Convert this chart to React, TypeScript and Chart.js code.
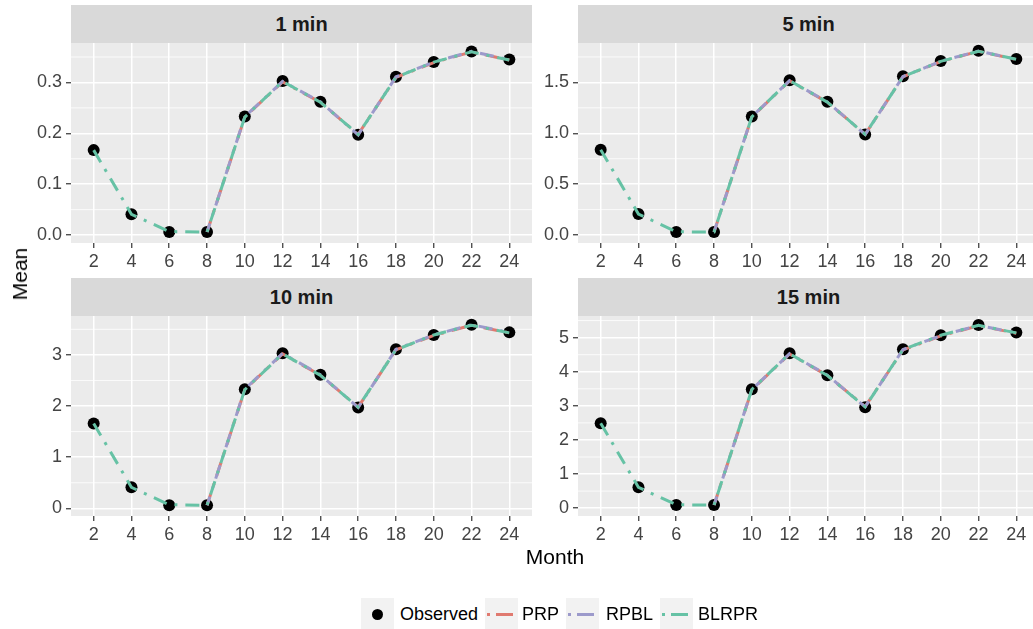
import React, { useEffect, useRef } from "react";
import { Chart, registerables } from "chart.js";

Chart.register(...registerables);

// ---------- data ----------
const months = [2, 4, 6, 8, 10, 12, 14, 16, 18, 20, 22, 24];

const obs1 = [0.167, 0.041, 0.006, 0.006, 0.233, 0.303, 0.262, 0.197, 0.311, 0.340, 0.361, 0.345];
const prp1 = [null, null, null, 0.006, 0.232, 0.301, 0.261, 0.198, 0.310, 0.339, 0.360, 0.344];
const rpbl1 = [null, null, null, 0.006, 0.233, 0.302, 0.262, 0.197, 0.311, 0.340, 0.361, 0.345];
const blrpr1 = [0.167, 0.041, 0.007, 0.006, 0.232, 0.302, 0.261, 0.198, 0.310, 0.340, 0.360, 0.344];

const obs2 = [0.839, 0.207, 0.030, 0.030, 1.165, 1.520, 1.310, 0.987, 1.560, 1.710, 1.810, 1.730];
const prp2 = [null, null, null, 0.030, 1.160, 1.515, 1.305, 0.990, 1.555, 1.705, 1.805, 1.725];
const rpbl2 = [null, null, null, 0.031, 1.163, 1.518, 1.308, 0.988, 1.558, 1.708, 1.808, 1.728];
const blrpr2 = [0.839, 0.207, 0.032, 0.030, 1.162, 1.517, 1.306, 0.990, 1.556, 1.707, 1.806, 1.727];

const obs3 = [1.66, 0.41, 0.06, 0.06, 2.33, 3.03, 2.61, 1.97, 3.11, 3.39, 3.59, 3.44];
const prp3 = [null, null, null, 0.06, 2.32, 3.02, 2.60, 1.98, 3.10, 3.38, 3.58, 3.43];
const rpbl3 = [null, null, null, 0.06, 2.33, 3.03, 2.61, 1.97, 3.11, 3.39, 3.59, 3.44];
const blrpr3 = [1.66, 0.41, 0.07, 0.06, 2.32, 3.02, 2.60, 1.98, 3.10, 3.39, 3.58, 3.43];

const obs4 = [2.49, 0.61, 0.09, 0.09, 3.49, 4.54, 3.90, 2.96, 4.66, 5.07, 5.37, 5.15];
const prp4 = [null, null, null, 0.09, 3.47, 4.52, 3.89, 2.98, 4.64, 5.05, 5.35, 5.13];
const rpbl4 = [null, null, null, 0.09, 3.48, 4.53, 3.90, 2.97, 4.65, 5.06, 5.36, 5.14];
const blrpr4 = [2.49, 0.61, 0.10, 0.09, 3.48, 4.53, 3.89, 2.97, 4.65, 5.07, 5.36, 5.14];

const yTicks1 = [0, 0.1, 0.2, 0.3];
const yLabels1 = ["0.0", "0.1", "0.2", "0.3"];
const yTicks2 = [0, 0.5, 1.0, 1.5];
const yLabels2 = ["0.0", "0.5", "1.0", "1.5"];
const yTicks3 = [0, 1, 2, 3];
const yLabels3 = ["0", "1", "2", "3"];
const yTicks4 = [0, 1, 2, 3, 4, 5];
const yLabels4 = ["0", "1", "2", "3", "4", "5"];

const panelTitles = ["1 min", "5 min", "10 min", "15 min"];
const seriesNames = ["Observed", "PRP", "RPBL", "BLRPR"];

// ---------- style ----------
const COLORS = { PRP: "#E07A70", RPBL: "#9C9ACB", BLRPR: "#66C2A5" };
const FONT = "'Liberation Sans', Arial, Helvetica, sans-serif";
const Y_AXIS_W = 60;
const X_AXIS_H = 32;
const PLOT_W = 461;
const PLOT_H = 200;
const COL_LEFT = [71, 578];
const ROW_STRIP_TOP = [5, 278];
const STRIP_H = 38;
const DASH = [14, 8, 3, 8];

const bgPlugin = {
  id: "bg",
  beforeDraw(chart: any, _args: any, opts: any) {
    const { ctx, chartArea } = chart;
    const { left, top, right, bottom } = chartArea;
    ctx.save();
    ctx.fillStyle = "#EBEBEB";
    ctx.fillRect(left, top, right - left, bottom - top);
    const ys = chart.scales.y;
    const ticks: number[] = opts.ticks || [];
    if (ticks.length > 1) {
      const step = ticks[1] - ticks[0];
      ctx.strokeStyle = "#FFFFFF";
      ctx.lineWidth = 0.8;
      for (let v = ticks[0] - step / 2; v <= ys.max; v += step) {
        if (v < ys.min) continue;
        const py = ys.getPixelForValue(v);
        ctx.beginPath();
        ctx.moveTo(left, py);
        ctx.lineTo(right, py);
        ctx.stroke();
      }
    }
    ctx.restore();
  },
};

const zeroPad = (s: any) => {
  s.paddingTop = 0;
  s.paddingBottom = 0;
  s.paddingLeft = 0;
  s.paddingRight = 0;
};

type PanelProps = {
  obs: number[];
  prp: (number | null)[];
  rpbl: (number | null)[];
  blrpr: (number | null)[];
  yTicks: number[];
  yLabels: string[];
  yMin: number;
  yMax: number;
  plotLeft: number;
  plotTop: number;
};

function Panel(p: PanelProps) {
  const ref = useRef<HTMLCanvasElement | null>(null);
  useEffect(() => {
    if (!ref.current) return;
    const toXY = (vals: (number | null)[]) => months.map((m, i) => ({ x: m, y: vals[i] }));
    const lineDs = (label: string, vals: (number | null)[], color: string, order: number, offset: number) => ({
      label,
      data: toXY(vals),
      borderColor: color,
      backgroundColor: color,
      borderWidth: 3,
      borderDash: DASH,
      borderDashOffset: offset,
      borderCapStyle: "butt",
      pointRadius: 0,
      tension: 0,
      spanGaps: false,
      order,
      clip: false,
    });
    const gridCfg = {
      color: "#FFFFFF",
      lineWidth: 1.5,
      tickColor: "#333333",
      tickLength: 5,
      tickWidth: 1.2,
      drawTicks: true,
    };
    const tickFont = { family: FONT, size: 18 };
    const chart = new Chart(ref.current, {
      type: "line",
      data: {
        datasets: [
          {
            label: seriesNames[0],
            data: toXY(p.obs),
            showLine: false,
            pointRadius: 6,
            pointBackgroundColor: "#000000",
            pointBorderColor: "#000000",
            pointBorderWidth: 0,
            order: 4,
            clip: false,
          } as any,
          lineDs(seriesNames[1], p.prp, COLORS.PRP, 3, 2),
          lineDs(seriesNames[2], p.rpbl, COLORS.RPBL, 2, 5),
          lineDs(seriesNames[3], p.blrpr, COLORS.BLRPR, 1, 0),
        ],
      },
      options: {
        animation: false,
        responsive: false,
        maintainAspectRatio: false,
        events: [],
        layout: { padding: 0, autoPadding: false },
        plugins: {
          legend: { display: false },
          tooltip: { enabled: false },
          bg: { ticks: p.yTicks },
        } as any,
        scales: {
          x: {
            type: "linear",
            min: 0.8,
            max: 25.2,
            afterBuildTicks: (s: any) => {
              s.ticks = months.map((v) => ({ value: v }));
            },
            afterFit: (s: any) => {
              s.height = X_AXIS_H;
              zeroPad(s);
            },
            grid: gridCfg,
            border: { display: false },
            ticks: {
              color: "#444444",
              font: tickFont,
              padding: 3,
              maxRotation: 0,
              autoSkip: false,
              callback: (v: any) => String(v),
            },
          },
          y: {
            type: "linear",
            min: p.yMin,
            max: p.yMax,
            afterBuildTicks: (s: any) => {
              s.ticks = p.yTicks.map((v) => ({ value: v }));
            },
            afterFit: (s: any) => {
              s.width = Y_AXIS_W;
              zeroPad(s);
            },
            grid: gridCfg,
            border: { display: false },
            ticks: {
              color: "#444444",
              font: tickFont,
              padding: 4,
              autoSkip: false,
              callback: (v: any) => {
                const i = p.yTicks.findIndex((t) => Math.abs(t - v) < 1e-9);
                return i >= 0 ? p.yLabels[i] : "";
              },
            },
          },
        } as any,
      },
      plugins: [bgPlugin],
    } as any);
    return () => chart.destroy();
  }, []);
  const w = Y_AXIS_W + PLOT_W;
  const h = PLOT_H + X_AXIS_H;
  return (
    <canvas
      ref={ref}
      width={w}
      height={h}
      style={{ position: "absolute", left: p.plotLeft - Y_AXIS_W, top: p.plotTop, width: w, height: h }}
    />
  );
}

function Strip({ title, left, top }: { title: string; left: number; top: number }) {
  return (
    <div
      style={{
        position: "absolute",
        left,
        top,
        width: PLOT_W,
        height: STRIP_H,
        background: "#D9D9D9",
        color: "#1A1A1A",
        fontFamily: FONT,
        fontWeight: "bold",
        fontSize: 20,
        display: "flex",
        alignItems: "center",
        justifyContent: "center",
      }}
    >
      {title}
    </div>
  );
}

function LegendKey({ left, color }: { left: number; color?: string }) {
  return (
    <div style={{ position: "absolute", left, top: 598, width: 33, height: 33, background: "#F2F2F2" }}>
      {color ? (
        <>
          <div style={{ position: "absolute", left: 2, top: 15, width: 3, height: 3, background: color }} />
          <div style={{ position: "absolute", left: 11, top: 15, width: 17, height: 3, background: color }} />
        </>
      ) : (
        <div style={{ position: "absolute", left: 11, top: 11, width: 11, height: 11, borderRadius: "50%", background: "#000" }} />
      )}
    </div>
  );
}

function LegendText({ left, text }: { left: number; text: string }) {
  return (
    <div
      style={{
        position: "absolute",
        left,
        top: 603,
        fontFamily: FONT,
        fontSize: 18,
        color: "#000",
        lineHeight: "22px",
        whiteSpace: "nowrap",
      }}
    >
      {text}
    </div>
  );
}

export default function App() {
  const panels = [
    { obs: obs1, prp: prp1, rpbl: rpbl1, blrpr: blrpr1, yTicks: yTicks1, yLabels: yLabels1, yMin: -0.0155, yMax: 0.3775 },
    { obs: obs2, prp: prp2, rpbl: rpbl2, blrpr: blrpr2, yTicks: yTicks2, yLabels: yLabels2, yMin: -0.078, yMax: 1.887 },
    { obs: obs3, prp: prp3, rpbl: rpbl3, blrpr: blrpr3, yTicks: yTicks3, yLabels: yLabels3, yMin: -0.15, yMax: 3.76 },
    { obs: obs4, prp: prp4, rpbl: rpbl4, blrpr: blrpr4, yTicks: yTicks4, yLabels: yLabels4, yMin: -0.23, yMax: 5.635 },
  ];
  return (
    <div style={{ position: "fixed", left: 0, top: 0, width: 1033, height: 629, overflow: "hidden", background: "#FFFFFF" }}>
      {panels.map((pp, i) => {
        const col = i % 2;
        const row = Math.floor(i / 2);
        const left = COL_LEFT[col];
        const stripTop = ROW_STRIP_TOP[row];
        return (
          <React.Fragment key={i}>
            <Strip title={panelTitles[i]} left={left} top={stripTop} />
            <Panel {...pp} plotLeft={left} plotTop={stripTop + STRIP_H} />
          </React.Fragment>
        );
      })}
      <div
        style={{
          position: "absolute",
          left: 20,
          top: 274,
          transform: "translate(-50%, -50%) rotate(-90deg)",
          fontFamily: FONT,
          fontSize: 21,
          color: "#000",
          whiteSpace: "nowrap",
        }}
      >
        Mean
      </div>
      <div
        style={{
          position: "absolute",
          left: 555,
          top: 557,
          transform: "translate(-50%, -50%)",
          fontFamily: FONT,
          fontSize: 21,
          color: "#000",
          whiteSpace: "nowrap",
        }}
      >
        Month
      </div>
      <LegendKey left={361} />
      <LegendText left={400} text={seriesNames[0]} />
      <LegendKey left={485} color={COLORS.PRP} />
      <LegendText left={522} text={seriesNames[1]} />
      <LegendKey left={566} color={COLORS.RPBL} />
      <LegendText left={606} text={seriesNames[2]} />
      <LegendKey left={660} color={COLORS.BLRPR} />
      <LegendText left={698} text={seriesNames[3]} />
    </div>
  );
}
